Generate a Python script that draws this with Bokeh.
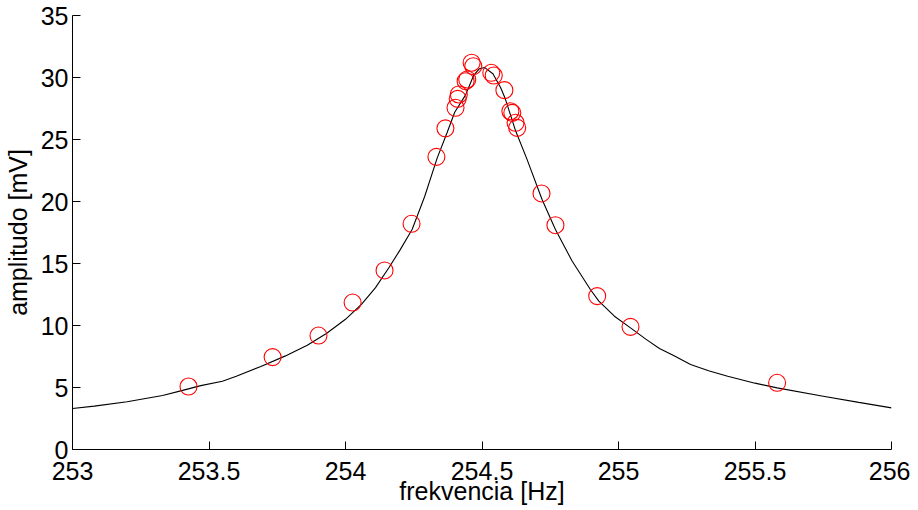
from bokeh.plotting import figure
from bokeh.models import Range1d, FixedTicker
from bokeh.embed import file_html
from bokeh.resources import INLINE

# measured data points
freq = [253.425, 253.733, 253.901, 254.026, 254.143, 254.242, 254.333, 254.366,
        254.403, 254.411, 254.415, 254.440, 254.446, 254.462, 254.468,
        254.534, 254.543, 254.582, 254.604, 254.611, 254.623, 254.629,
        254.718, 254.769, 254.922, 255.044, 255.581]
amp = [5.08, 7.45, 9.19, 11.85, 14.44, 18.2, 23.6, 25.9,
       27.56, 28.28, 28.63, 29.7, 29.84, 31.19, 30.91,
       30.38, 30.16, 28.98, 27.28, 27.15, 26.35, 25.94,
       20.65, 18.09, 12.37, 9.89, 5.38]

# fitted curve
fit_f = [253.0, 253.08, 253.2, 253.33, 253.4, 253.47, 253.549, 253.6, 253.69,
         253.78, 253.86, 253.93, 254.0, 254.06, 254.11, 254.16, 254.2, 254.244,
         254.29, 254.336, 254.372, 254.40, 254.44, 254.47, 254.49, 254.51,
         254.54, 254.568, 254.585, 254.604, 254.623, 254.665, 254.72, 254.769,
         254.83, 254.897, 254.928, 254.985, 255.044, 255.1, 255.15, 255.2,
         255.264, 255.33, 255.4, 255.5, 255.581, 255.75, 255.88, 256.0]
fit_a = [3.31, 3.5, 3.85, 4.35, 4.75, 5.15, 5.51, 5.9, 6.7,
         7.55, 8.4, 9.35, 10.5, 11.75, 13.05, 14.7, 16.1, 17.74,
         20.4, 23.52, 25.54, 27.2, 28.6, 30.2, 30.7, 30.8,
         30.3, 29.2, 28.3, 27.0, 25.7, 23.4, 20.16, 17.74,
         15.2, 12.9, 11.96, 10.75, 9.81, 8.9, 8.15, 7.6,
         6.85, 6.35, 5.9, 5.35, 4.97, 4.3, 3.8, 3.36]

x_ticks = [253, 253.5, 254, 254.5, 255, 255.5, 256]
x_tick_labels = ["253", "253.5", "254", "254.5", "255", "255.5", "256"]
y_ticks = [0, 5, 10, 15, 20, 25, 30, 35]
y_tick_labels = ["0", "5", "10", "15", "20", "25", "30", "35"]

FONT = "Liberation Sans"

p = figure(frame_width=819, frame_height=434, output_backend="svg",
           toolbar_location=None,
           x_range=Range1d(253, 256), y_range=Range1d(0, 35),
           min_border_left=64, min_border_right=19, min_border_top=15,
           min_border_bottom=40)
p.outline_line_color = None
p.xgrid.visible = False
p.ygrid.visible = False
p.background_fill_color = "white"
p.border_fill_color = "white"

p.line(fit_f, fit_a, line_color="black", line_width=1.1)
p.scatter(freq, amp, marker="circle", size=17, fill_color=None,
          line_color="#ff0000", line_width=1.1)

for ax, ticks, labels in ((p.xaxis[0], x_ticks, x_tick_labels),
                          (p.yaxis[0], y_ticks, y_tick_labels)):
    ax.ticker = FixedTicker(ticks=ticks)
    ax.major_label_overrides = {t: l for t, l in zip(ticks, labels)}
    ax.major_tick_in = 8
    ax.major_tick_out = 0
    ax.minor_tick_in = 0
    ax.minor_tick_out = 0
    ax.axis_line_color = "black"
    ax.major_tick_line_color = "black"
    ax.major_label_text_font = FONT
    ax.major_label_text_font_size = "25px"
    ax.major_label_text_color = "black"
    ax.axis_label_text_font = FONT
    ax.axis_label_text_font_size = "25px"
    ax.axis_label_text_font_style = "normal"
    ax.axis_label_text_color = "black"

p.xaxis.axis_label = "frekvencia [Hz]"
p.yaxis.axis_label = "amplitudo [mV]"
p.xaxis.major_label_standoff = 12
p.xaxis.axis_label_standoff = -6
p.yaxis.major_label_standoff = 4
p.yaxis.axis_label_standoff = 6

open("out.html", "w").write(file_html(p, INLINE))
